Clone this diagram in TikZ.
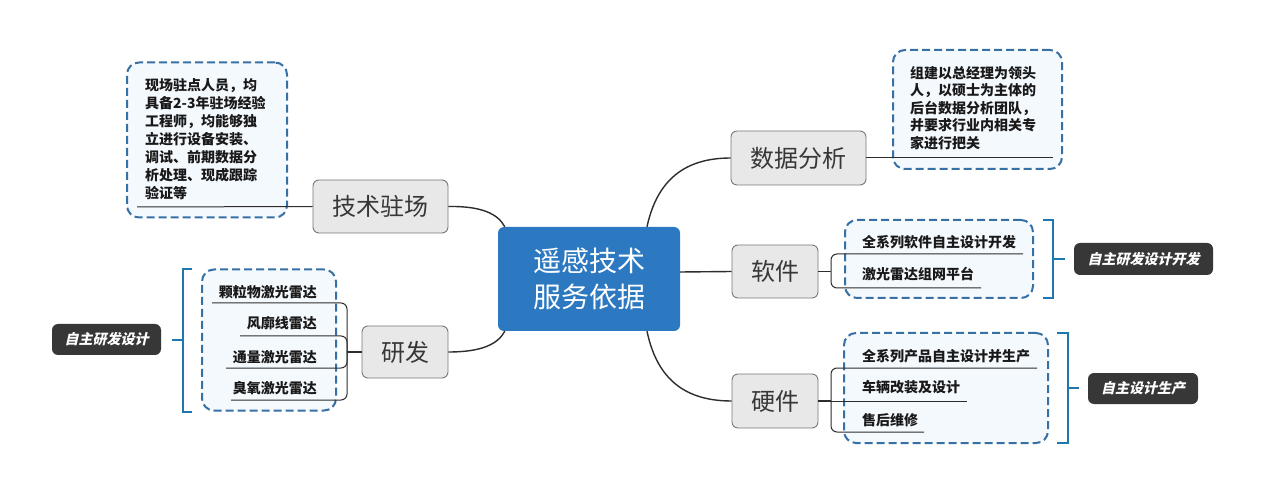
\documentclass[tikz,border=0pt]{standalone}
\usepackage{fontspec}
\newfontfamily\cjk{Noto Sans CJK SC}
\newfontfamily\cjksl{Noto Sans CJK SC}[FakeSlant=0.22]
\definecolor{cblue}{RGB}{44,121,193}
\definecolor{boxgray}{RGB}{232,232,232}
\definecolor{boxedge}{RGB}{120,120,120}
\definecolor{boxtext}{RGB}{55,55,55}
\definecolor{dashblue}{RGB}{55,112,165}
\definecolor{notefill}{RGB}{244,249,254}
\definecolor{brblue}{RGB}{30,120,175}
\definecolor{darklab}{RGB}{55,55,55}
\definecolor{linec}{RGB}{45,45,45}
\definecolor{txt}{RGB}{25,25,25}
\tikzset{
  central/.style={draw=none, fill=cblue, rounded corners=6pt, align=center, text=white, inner sep=0pt, font=\cjk\fontsize{28}{36}\selectfont},
  topic/.style={draw=boxedge, fill=boxgray, line width=0.9pt, rounded corners=6pt, inner sep=0pt, text=boxtext, font=\cjk\fontsize{24}{24}\selectfont},
  notebox/.style={draw=dashblue, fill=notefill, line width=2pt, dash pattern=on 8pt off 4pt, rounded corners=12pt, inner sep=0pt},
  darkbox/.style={fill=darklab, rounded corners=6pt, inner sep=0pt, text=white, font=\cjksl\bfseries\fontsize{14}{14}\selectfont},
  conn/.style={draw=linec, line width=1.4pt},
  uline/.style={draw=linec, line width=1pt},
  spine/.style={draw=linec, line width=1pt, rounded corners=6pt},
  bracket/.style={draw=brblue, line width=2pt},
  itemtext/.style={inner sep=0pt, text=txt, font=\cjk\bfseries\fontsize{14}{14}\selectfont},
  notetext/.style={inner sep=0pt, align=left, text=txt}
}
\begin{document}
\begin{tikzpicture}[x=1pt,y=-1pt]
\useasboundingbox (0,0) rectangle (1264,494);
\fill[white] (0,0) rectangle (1264,494);

% dashed note boxes (behind)
\node[notebox, minimum width=160pt, minimum height=155pt] (n1) at (207,140) {};
\node[notebox, minimum width=134pt, minimum height=141pt] (n2) at (269,340) {};
\node[notebox, minimum width=169pt, minimum height=119pt] (n3) at (977.5,109.5) {};
\node[notebox, minimum width=188pt, minimum height=78pt] (n4) at (939,259) {};
\node[notebox, minimum width=204pt, minimum height=110pt] (n5) at (946,388) {};

% central
\node[central, minimum width=182pt, minimum height=104pt] (c) at (589,279) {遥感技术\\服务依据};

% topics
\node[topic, minimum width=135pt, minimum height=53pt] (t1) at (380.5,206.5) {技术驻场};
\node[topic, minimum width=86pt, minimum height=52pt] (t2) at (405,352) {研发};
\node[topic, minimum width=135pt, minimum height=54pt] (t3) at (798.5,158) {数据分析};
\node[topic, minimum width=86pt, minimum height=53pt] (t4) at (775,271.5) {软件};
\node[topic, minimum width=86pt, minimum height=54pt] (t5) at (775,401) {硬件};

% central connectors
\draw[conn] (t1.east) .. controls (482,206) and (498,214) .. ([xshift=7pt]c.north west);
\draw[conn] (t2.east) .. controls (482,352) and (498,344) .. ([xshift=7pt]c.south west);
\draw[conn] ([xshift=58pt]c.north) .. controls (656,185) and (680,158) .. (t3.west);
\draw[conn] ([yshift=7pt]c.east) -- (t4.west);
\draw[conn] ([xshift=58pt]c.south) .. controls (656,374) and (680,401) .. (t5.west);

% note 1 (技术驻场)
\node[notetext, anchor=north west, font=\cjk\bfseries\fontsize{14}{18}\selectfont] (nt1) at (145,78)
 {现场驻点人员，均\\具备2-3年驻场经验\\工程师，均能够独\\立进行设备安装、\\调试、前期数据分\\析处理、现成跟踪\\验证等};
\coordinate (u1) at (137,207);
\draw[uline] (u1) -- (t1.west);

% note 3 (数据分析)
\node[notetext, anchor=north west, font=\cjk\bfseries\fontsize{14}{17.5}\selectfont] (nt3) at (910,66)
 {组建以总经理为领头\\人，以硕士为主体的\\后台数据分析团队，\\并要求行业内相关专\\家进行把关};
\coordinate (u3) at (1053,158);
\draw[uline] (t3.east) -- (u3);

% 研发 items
\coordinate (hL) at (347,352);
\draw[conn] (t2.west) -- (hL);
\node[itemtext, anchor=east] (r1) at (317,292) {颗粒物激光雷达};
\node[itemtext, anchor=east] (r2) at (317,323) {风廓线雷达};
\node[itemtext, anchor=east] (r3) at (317,357) {通量激光雷达};
\node[itemtext, anchor=east] (r4) at (317,388) {臭氧激光雷达};
\coordinate (ru1) at (212,303);
\coordinate (ru2) at (240,336);
\coordinate (ru3) at (226,368);
\coordinate (ru4) at (231,400);
\draw[spine] (hL) |- (ru1);
\draw[spine] (hL) |- (ru2);
\draw[spine] (hL) |- (ru3);
\draw[spine] (hL) |- (ru4);

% 软件 items
\coordinate (hS) at (831,271.5);
\draw[conn] (t4.east) -- (hS);
\node[itemtext, anchor=west] (s1) at (862,242) {全系列软件自主设计开发};
\node[itemtext, anchor=west] (s2) at (862,274) {激光雷达组网平台};
\coordinate (su1) at (1023,254);
\coordinate (su2) at (981,288);
\draw[spine] (hS) |- (su1);
\draw[spine] (hS) |- (su2);

% 硬件 items
\coordinate (hH) at (831,401);
\draw[conn] (t5.east) -- (hH);
\node[itemtext, anchor=west] (h1) at (862,356) {全系列产品自主设计并生产};
\node[itemtext, anchor=west] (h2) at (862,387) {车辆改装及设计};
\node[itemtext, anchor=west] (h3) at (862,420) {售后维修};
\coordinate (hu1) at (1037,368);
\coordinate (hu2) at (967,401);
\coordinate (hu3) at (924,432);
\draw[spine] (hH) |- (hu1);
\draw[spine] (hH) -- (hu2);
\draw[spine] (hH) |- (hu3);

% brackets
\coordinate (bl1) at (192,269);
\coordinate (bl2) at (192,412);
\coordinate (blm) at (183,340);
\coordinate (blt) at (172,340);
\draw[bracket] (bl1) -| (blm) |- (bl2);
\draw[bracket] (blm) -- (blt);

\coordinate (br1) at (1043,220);
\coordinate (br2) at (1043,298);
\coordinate (brm) at (1053,259);
\coordinate (brt) at (1065,259);
\draw[bracket] (br1) -| (brm) |- (br2);
\draw[bracket] (brm) -- (brt);

\coordinate (bh1) at (1057,333);
\coordinate (bh2) at (1057,443);
\coordinate (bhm) at (1068,388);
\coordinate (bht) at (1079,388);
\draw[bracket] (bh1) -| (bhm) |- (bh2);
\draw[bracket] (bhm) -- (bht);

% dark labels
\node[darkbox, minimum width=109pt, minimum height=31pt] (d1) at (106.5,339.5) {自主研发设计};
\node[darkbox, minimum width=139pt, minimum height=32pt] (d2) at (1143.5,259) {自主研发设计开发};
\node[darkbox, minimum width=110pt, minimum height=31pt] (d3) at (1143,388.5) {自主设计生产};
\end{tikzpicture}
\end{document}
